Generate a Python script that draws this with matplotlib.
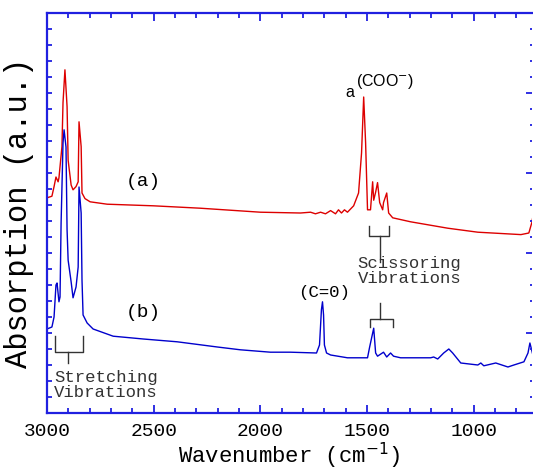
import numpy as np
import matplotlib.pyplot as plt
from matplotlib.ticker import MultipleLocator, NullFormatter

# --- 数据 ---
wn_a = [3000, 2977, 2967, 2958, 2948, 2944, 2930, 2925, 2916, 2906, 2901, 2887, 2878,
        2864, 2854, 2850, 2840, 2836, 2822, 2798, 2718, 2502, 2282, 2000, 1812, 1765,
        1742, 1718, 1695, 1671, 1648, 1634, 1620, 1606, 1592, 1563, 1540, 1526, 1516,
        1507, 1498, 1484, 1474, 1469, 1460, 1451, 1441, 1427, 1423, 1408, 1399, 1380,
        1296, 1122, 981, 779, 742, 728, 720]
abs_a = [2.69, 2.71, 2.83, 2.95, 2.89, 2.94, 3.33, 3.88, 4.29, 3.83, 3.16, 2.85, 2.79,
         2.83, 2.89, 3.64, 3.33, 2.75, 2.68, 2.64, 2.61, 2.59, 2.56, 2.51, 2.50, 2.51,
         2.49, 2.51, 2.49, 2.53, 2.49, 2.54, 2.50, 2.54, 2.51, 2.59, 2.75, 3.25, 3.95,
         3.38, 2.54, 2.54, 2.89, 2.66, 2.76, 2.88, 2.63, 2.54, 2.63, 2.75, 2.50, 2.44,
         2.39, 2.31, 2.26, 2.23, 2.25, 2.38, 2.50]

wn_b = [3000, 2977, 2967, 2958, 2953, 2944, 2939, 2934, 2925, 2920, 2911, 2906, 2901,
        2887, 2878, 2864, 2854, 2850, 2840, 2836, 2831, 2812, 2784, 2690, 2549, 2390,
        2202, 2094, 1953, 1859, 1737, 1723, 1714, 1709, 1704, 1700, 1690, 1671, 1592,
        1498, 1488, 1469, 1460, 1451, 1423, 1408, 1390, 1376, 1343, 1202, 1188, 1169,
        1141, 1117, 1099, 1061, 981, 967, 953, 897, 840, 812, 765, 746, 737, 723]
abs_b = [1.05, 1.075, 1.2, 1.6, 1.625, 1.39, 1.45, 2.375, 3.375, 3.54, 3.325, 2.29, 1.91,
         1.64, 1.44, 1.575, 1.825, 2.825, 2.5, 1.66, 1.225, 1.125, 1.05, 0.96, 0.925, 0.89,
         0.825, 0.79, 0.76, 0.76, 0.75, 0.85, 1.29, 1.39, 1.225, 0.85, 0.75, 0.725, 0.69,
         0.69, 0.825, 1.06, 0.75, 0.71, 0.76, 0.70, 0.75, 0.71, 0.69, 0.69, 0.70, 0.675,
         0.75, 0.80, 0.75, 0.625, 0.60, 0.625, 0.59, 0.625, 0.575, 0.60, 0.64, 0.75, 0.875, 0.725]

mono = 'Liberation Mono'
axis_blue = '#2020e0'
gray = '#333333'

fig = plt.figure(figsize=(5.33, 4.70), dpi=100)
ax = fig.add_axes([0.0882, 0.1213, 0.9100, 0.8510])

ax.plot(wn_a, abs_a, color='#dd0000', lw=1.0)
ax.plot(wn_b, abs_b, color='#0000cc', lw=1.0)

ax.set_xlim(3000, 727)
ax.set_ylim(0, 5)

# 坐标轴样式
for s in ax.spines.values():
    s.set_color(axis_blue)
    s.set_linewidth(1.6)
ax.spines['right'].set_visible(False)

ax.xaxis.set_major_locator(MultipleLocator(500))
ax.xaxis.set_minor_locator(MultipleLocator(100))
ax.yaxis.set_major_locator(MultipleLocator(1))
ax.yaxis.set_minor_locator(MultipleLocator(0.2))
ax.yaxis.set_major_formatter(NullFormatter())

ax.tick_params(axis='x', which='both', direction='in', top=True, bottom=True,
               color=axis_blue, width=1.3, labelsize=14, pad=7)
ax.tick_params(axis='x', which='major', length=6)
ax.tick_params(axis='x', which='minor', length=3.6)
ax.tick_params(axis='y', which='both', direction='in', left=True, right=False,
               color=axis_blue, width=1.3, length=3.6)
for lab in ax.get_xticklabels():
    lab.set_family(mono)

# 右侧刻度 (较短的次刻度)
ax2 = ax.twinx()
ax2.set_ylim(0, 5)
for s in ax2.spines.values():
    s.set_visible(False)
ax2.yaxis.set_major_locator(MultipleLocator(1))
ax2.yaxis.set_minor_locator(MultipleLocator(0.2))
ax2.yaxis.set_major_formatter(NullFormatter())
ax2.tick_params(axis='y', which='both', direction='in', color=axis_blue, width=1.3)
ax2.tick_params(axis='y', which='major', length=4)
ax2.tick_params(axis='y', which='minor', length=1.5)

ax.set_xlabel('Wavenumber (cm$^{-1}$)', family=mono, fontsize=16, labelpad=1)
ax.set_ylabel('Absorption (a.u.)', family=mono, fontsize=22, labelpad=6)

# 注释
ax.text(2549, 2.9, '(a)', family=mono, fontsize=14, ha='center', va='center')
ax.text(2549, 1.25, '(b)', family=mono, fontsize=14, ha='center', va='center')
ax.text(1700, 1.5, '(C=0)', family=mono, fontsize=12.5, ha='center', va='center')
ax.text(1582, 4.01, 'a', family='Liberation Sans', fontsize=11.5, ha='center', va='center')
ax.text(1554, 4.14, '(COO$^{-}$)', family='Liberation Sans', fontsize=11.5,
        ha='left', va='center')

ax.text(1545, 1.78, 'Scissoring\nVibrations', family=mono, fontsize=12.4,
        color=gray, ha='left', va='center', linespacing=1.0)
ax.text(2967, 0.35, 'Stretching\nVibrations', family=mono, fontsize=12.4,
        color=gray, ha='left', va='center', linespacing=1.0)

# 括号
bk = dict(color=gray, lw=1.0)
ax.plot([2962, 2962, 2831, 2831], [0.9625, 0.7625, 0.7625, 0.9625], **bk)
ax.plot([2901, 2901], [0.7625, 0.625], **bk)

ax.plot([1493, 1493, 1399, 1399], [2.34, 2.21, 2.21, 2.34], **bk)
ax.plot([1441, 1441], [2.21, 1.89], **bk)

ax.plot([1488, 1488, 1380, 1380], [1.075, 1.175, 1.175, 1.075], **bk)
ax.plot([1441, 1441], [1.175, 1.375], **bk)

fig.savefig('out.png', dpi=100)
